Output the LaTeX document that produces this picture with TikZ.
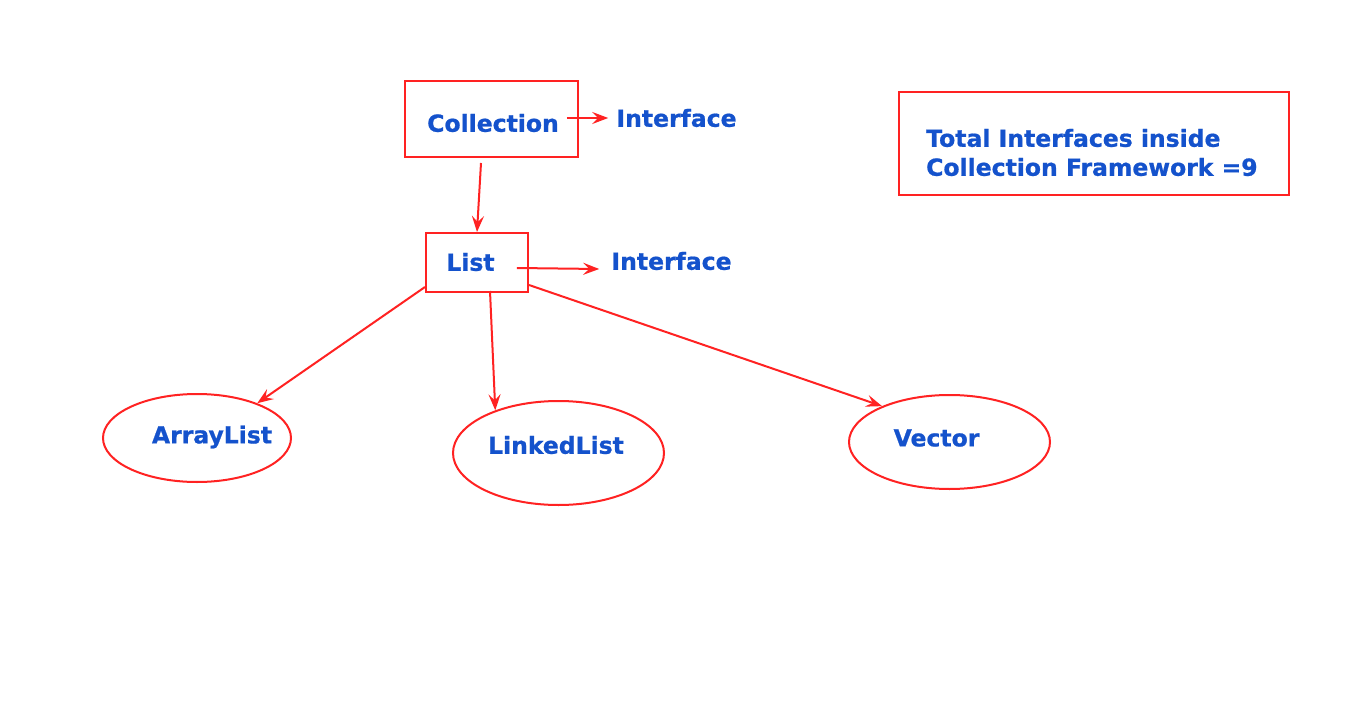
\documentclass[tikz,border=0pt]{standalone}
\usepackage{fontspec}
\setmainfont{DejaVu Sans}
\newfontfamily\lblfont[FakeBold=0.8]{DejaVu Sans Bold}
\usetikzlibrary{arrows.meta,shapes.geometric}
\definecolor{redz}{RGB}{255,34,34}
\definecolor{bluez}{RGB}{20,82,204}
\tikzset{
  boxz/.style={draw=redz, line width=2pt, inner sep=0pt},
  ellz/.style={draw=redz, line width=2pt, ellipse, inner sep=0pt},
  lbl/.style={text=bluez, font=\fontsize{23.5}{29}\selectfont\lblfont, inner sep=0pt},
  arr/.style={draw=redz, line width=2pt, -{Stealth[length=16pt,width=12pt,inset=6pt]}},
}
\begin{document}
\begin{tikzpicture}[x=1pt,y=-1pt]
\useasboundingbox[fill=white] (0,0) rectangle (1366,706);
% boxes
\node[boxz, minimum width=173pt, minimum height=76pt] (collbox) at (491.5,119) {};
\node[lbl] (colltxt) at (493,123) {Collection};
\node[lbl] (if1) at (676.5,118) {Interface};
\node[boxz, minimum width=102pt, minimum height=59pt] (listbox) at (477,262.5) {};
\node[lbl] (listtxt) at (470.5,262) {List};
\node[lbl] (if2) at (671.5,261) {Interface};
\node[boxz, minimum width=390pt, minimum height=103pt] (totbox) at (1094,143.5) {};
\node[lbl, align=left, anchor=west] (tottxt) at (926,152.5) {Total Interfaces inside\\Collection Framework =9};
% ellipses
\node[ellz, minimum width=188pt, minimum height=88pt] (al) at (197,438) {};
\node[lbl] (altxt) at (212,437) {ArrayList};
\node[ellz, minimum width=211pt, minimum height=104pt] (ll) at (558.5,453) {};
\node[lbl] (lltxt) at (556,445) {LinkedList};
\node[ellz, minimum width=201pt, minimum height=94pt] (vec) at (949.5,442) {};
\node[lbl] (vectxt) at (936.5,438) {Vector};
% arrows
\draw[arr] ([xshift=8pt,yshift=5pt]colltxt.east) -- ([xshift=-8pt]if1.west);
\draw[arr] ([xshift=-10.5pt,yshift=-5pt]collbox.south) -- (listbox.north);
\draw[arr] ([xshift=22pt,yshift=-6pt]listtxt.east) -- ([xshift=-12pt,yshift=-8pt]if2.west);
\draw[arr] ([yshift=6pt]listbox.south west) -- (al.30);
\draw[arr] ([xshift=13pt,yshift=2pt]listbox.south) -- (ll.146);
\draw[arr] ([yshift=8pt]listbox.south east) -- (vec.152);
\end{tikzpicture}
\end{document}
